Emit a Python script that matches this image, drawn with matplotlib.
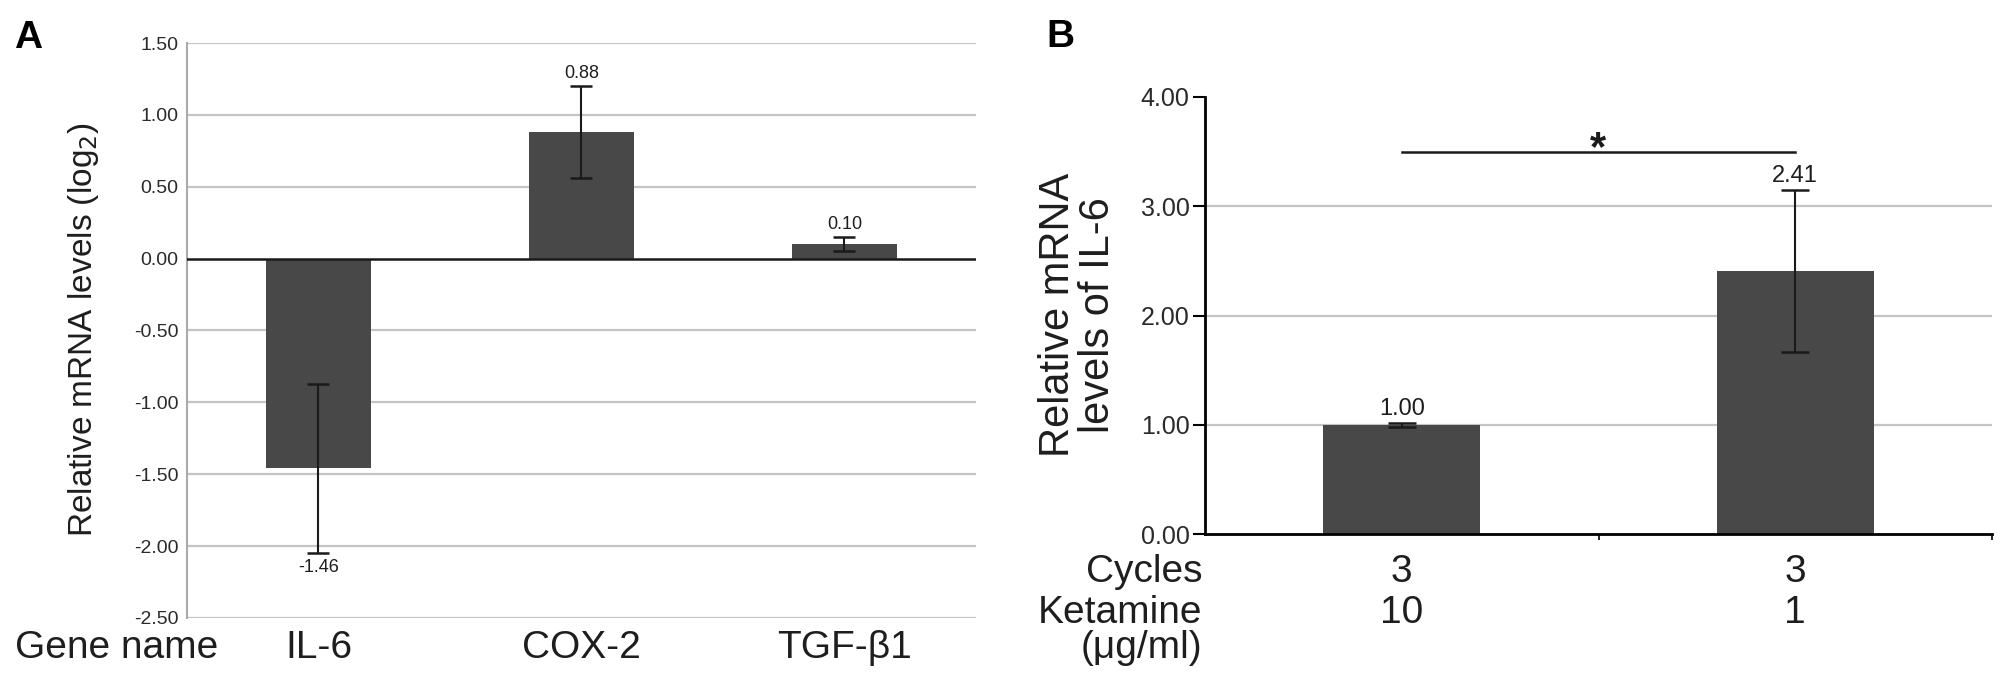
import numpy as np
import matplotlib.pyplot as plt

plt.rcParams['font.family'] = ['Liberation Sans', 'DejaVu Sans']

# panel A data
genes = ['IL-6', 'COX-2', 'TGF-β1']
log2_levels = [-1.46, 0.88, 0.10]
log2_err = [0.59, 0.32, 0.05]
a_ticks = [-2.5, -2.0, -1.5, -1.0, -0.5, 0.0, 0.5, 1.0, 1.5]

# panel B data
cycles = ['3', '3']
ketamine = ['10', '1']
il6_levels = [1.00, 2.41]
il6_err = [0.02, 0.74]
b_ticks = [0.0, 1.0, 2.0, 3.0, 4.0]
sig_y = 3.5

W, H = 2008, 681
bar_col = '#484848'
grid_col = '#c4c4c4'
txt_col = '#1e1e1e'

fig = plt.figure(figsize=(W / 100, H / 100), dpi=100)

def fx(px):
    return px / W

def fy(py):
    return 1 - py / H

# ---- panel A ----
axA = fig.add_axes([fx(187), fy(618), fx(976) - fx(187), fy(43) - fy(618)])
xa = np.arange(len(genes))
axA.set_xlim(-0.5, len(genes) - 0.5)
axA.set_ylim(-2.5, 1.5)
for t in a_ticks:
    if t == 0:
        continue
    axA.axhline(t, color=grid_col, lw=1.6, zorder=0)
axA.bar(xa, log2_levels, width=0.4, color=bar_col, zorder=2)
axA.errorbar(xa, log2_levels, yerr=log2_err, fmt='none', ecolor='#1a1a1a',
             elinewidth=1.5, capsize=8, capthick=1.8, zorder=3)
axA.axhline(0, color='#1a1a1a', lw=1.8, zorder=4)
for i, (v, e) in enumerate(zip(log2_levels, log2_err)):
    if v < 0:
        axA.annotate(f'{v:.2f}', (i, v - e), xytext=(0, -4), textcoords='offset points',
                     ha='center', va='top', fontsize=13, color=txt_col)
    else:
        axA.annotate(f'{v:.2f}', (i, v + e), xytext=(0, 3), textcoords='offset points',
                     ha='center', va='bottom', fontsize=13, color=txt_col)
axA.set_yticks(a_ticks)
axA.set_yticklabels([f'{t:.2f}' for t in a_ticks], fontsize=14, color='#2a2a2a')
axA.set_xticks([])
axA.tick_params(axis='y', length=0, pad=6)
for s in ['top', 'right', 'bottom']:
    axA.spines[s].set_visible(False)
axA.spines['left'].set_color('#aaaaaa')
axA.spines['left'].set_linewidth(1.5)

fig.text(fx(84), fy(330), 'Relative mRNA levels (log$_2$)', rotation=90,
         ha='center', va='center', fontsize=24, color=txt_col)
fig.text(fx(14), fy(48), 'A', fontsize=28, fontweight='bold', ha='left', va='baseline')
fig.text(fx(15), fy(658), 'Gene name', fontsize=28, ha='left', va='baseline', color=txt_col)
for i, g in enumerate(genes):
    xd = axA.transData.transform((i, 0))[0]
    fig.text(xd / W, fy(658), g, fontsize=28, ha='center', va='baseline', color=txt_col)

# ---- panel B ----
axB = fig.add_axes([fx(1205), fy(534), fx(1992) - fx(1205), fy(97) - fy(534)])
xb = np.arange(len(il6_levels))
axB.set_xlim(-0.5, len(il6_levels) - 0.5)
axB.set_ylim(0, 4)
for t in b_ticks[1:-1]:
    axB.axhline(t, color=grid_col, lw=1.6, zorder=0)
axB.bar(xb, il6_levels, width=0.4, color=bar_col, zorder=2)
axB.errorbar(xb, il6_levels, yerr=il6_err, fmt='none', ecolor='#1a1a1a',
             elinewidth=1.5, capsize=10, capthick=1.8, zorder=3)
for i, (v, e) in enumerate(zip(il6_levels, il6_err)):
    axB.annotate(f'{v:.2f}', (i, v + e), xytext=(0, 2), textcoords='offset points',
                 ha='center', va='bottom', fontsize=17, color=txt_col)
axB.plot([xb[0], xb[1]], [sig_y, sig_y], color='#1a1a1a', lw=1.8, clip_on=False)
axB.text(np.mean(xb), 3.42, '*', ha='center', va='baseline', fontsize=30,
         fontweight='bold', color='#1a1a1a')
axB.set_yticks(b_ticks)
axB.set_yticklabels([f'{t:.2f}' for t in b_ticks], fontsize=18, color='#2a2a2a')
axB.tick_params(axis='y', direction='out', length=9, width=1.5, pad=2)
axB.set_xticks([0.5, 1.5])
axB.set_xticklabels([])
axB.tick_params(axis='x', direction='out', length=4, width=1.2)
for s in ['top', 'right']:
    axB.spines[s].set_visible(False)
axB.spines['left'].set_linewidth(2)
axB.spines['bottom'].set_linewidth(2)

fig.text(fx(1078), fy(315), 'Relative mRNA\nlevels of IL-6', rotation=90,
         ha='center', va='center', fontsize=30, color=txt_col, linespacing=1.0,
         multialignment='center')
fig.text(fx(1046), fy(47), 'B', fontsize=28, fontweight='bold', ha='left', va='baseline')
fig.text(fx(1202), fy(582), 'Cycles', fontsize=28, ha='right', va='baseline', color=txt_col)
fig.text(fx(1202), fy(623), 'Ketamine', fontsize=28, ha='right', va='baseline', color=txt_col)
fig.text(fx(1202), fy(658), '(μg/ml)', fontsize=28, ha='right', va='baseline', color=txt_col)
for i in range(len(il6_levels)):
    xd = axB.transData.transform((i, 0))[0]
    fig.text(xd / W, fy(582), cycles[i], fontsize=28, ha='center', va='baseline', color=txt_col)
    fig.text(xd / W, fy(623), ketamine[i], fontsize=28, ha='center', va='baseline', color=txt_col)

fig.savefig('out.png', dpi=100, facecolor='white')
